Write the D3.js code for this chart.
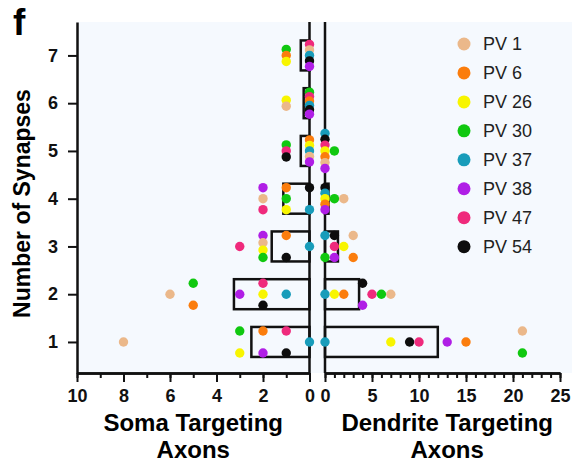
<!DOCTYPE html>
<html>
<head>
<meta charset="utf-8">
<script src="https://cdn.jsdelivr.net/npm/d3@7"></script>
<style>
  body { margin: 0; background: #fff; }
  svg { display: block; font-family: "Liberation Sans", Arial, sans-serif; }
</style>
</head>
<body>
<div id="chart"></div>
<script>
// PV cells and their colours
const pvNames = ["PV 1", "PV 6", "PV 26", "PV 30", "PV 37", "PV 38", "PV 47", "PV 54"];
const pvColors = ["#ebb88a", "#fb7d0d", "#f8f500", "#10c810", "#189cba", "#b01ee6", "#ef2a7c", "#0d0d0d"];

// number of axons per PV at each synapse count (1..7), listed top to bottom as drawn
const soma = [
  [["PV 1", 8], ["PV 30", 3], ["PV 26", 3], ["PV 6", 2], ["PV 38", 2], ["PV 47", 1], ["PV 54", 1], ["PV 37", 0]],
  [["PV 1", 6], ["PV 30", 5], ["PV 6", 5], ["PV 38", 3], ["PV 47", 2], ["PV 26", 2], ["PV 54", 2], ["PV 37", 1]],
  [["PV 47", 3], ["PV 38", 2], ["PV 1", 2], ["PV 26", 2], ["PV 30", 2], ["PV 6", 1], ["PV 54", 1], ["PV 37", 0]],
  [["PV 38", 2], ["PV 1", 2], ["PV 47", 2], ["PV 6", 1], ["PV 30", 1], ["PV 26", 1], ["PV 54", 0], ["PV 37", 0]],
  [["PV 30", 1], ["PV 47", 1], ["PV 54", 1], ["PV 6", 0], ["PV 26", 0], ["PV 37", 0], ["PV 1", 0], ["PV 38", 0]],
  [["PV 26", 1], ["PV 1", 1], ["PV 30", 0], ["PV 47", 0], ["PV 6", 0], ["PV 37", 0], ["PV 54", 0], ["PV 38", 0]],
  [["PV 30", 1], ["PV 6", 1], ["PV 26", 1], ["PV 47", 0], ["PV 1", 0], ["PV 37", 0], ["PV 54", 0], ["PV 38", 0]]
];
const dendrite = [
  [["PV 37", 0], ["PV 26", 7], ["PV 54", 9], ["PV 47", 10], ["PV 38", 13], ["PV 6", 15], ["PV 1", 21], ["PV 30", 21]],
  [["PV 37", 0], ["PV 26", 1], ["PV 6", 2], ["PV 54", 4], ["PV 38", 4], ["PV 47", 5], ["PV 30", 6], ["PV 1", 7]],
  [["PV 37", 0], ["PV 30", 0], ["PV 54", 1], ["PV 47", 1], ["PV 38", 1], ["PV 26", 2], ["PV 1", 3], ["PV 6", 3]],
  [["PV 54", 0], ["PV 37", 0], ["PV 26", 0], ["PV 6", 0], ["PV 38", 0], ["PV 30", 1], ["PV 1", 2]],
  [["PV 37", 0], ["PV 54", 0], ["PV 47", 0], ["PV 26", 0], ["PV 6", 0], ["PV 1", 0], ["PV 38", 0], ["PV 30", 1]],
  [],
  []
];
const synapseTicks = [1, 2, 3, 4, 5, 6, 7];
const somaTicks = [10, 8, 6, 4, 2, 0];
const dendriteTicks = [0, 5, 10, 15, 20, 25];

const width = 575;
const height = 463;
const plotTop = 22;
const plotBottom = 373;

const color = d3.scaleOrdinal(pvNames, pvColors);
const y = d3.scaleLinear([0.35, 7.7], [plotBottom, plotTop]);
const xL = d3.scaleLinear([10, 0], [77, 309.5]);
const xR = d3.scaleLinear([0, 25], [325, 560]);

const svg = d3.create("svg")
  .attr("width", width)
  .attr("height", height)
  .attr("viewBox", [0, 0, width, height]);
d3.select("#chart").append(() => svg.node());

// plot background
svg.append("rect")
  .attr("x", xL(10)).attr("y", plotTop)
  .attr("width", 572 - xL(10)).attr("height", plotBottom - plotTop)
  .attr("fill", "#f5f9fe");

// panel label
svg.append("text")
  .attr("x", 13).attr("y", 35)
  .attr("font-size", 37).attr("font-weight", "bold")
  .text("f");

const barHalf = 15;

function drawPanel(data, x) {
  const g = svg.append("g");
  data.forEach((pts, i) => {
    if (!pts.length) return;
    const level = i + 1;
    const mean = d3.sum(pts, d => d[1]) / pvNames.length;
    const x0 = x(0), x1 = x(mean);
    g.append("rect")
      .attr("x", Math.min(x0, x1)).attr("width", Math.abs(x1 - x0))
      .attr("y", y(level) - barHalf).attr("height", barHalf * 2)
      .attr("fill", "none").attr("stroke", "#111").attr("stroke-width", 2.5);
  });
  // dots, spread vertically when several share a value
  data.forEach((pts, i) => {
    const level = i + 1;
    const groups = d3.group(pts, d => d[1]);
    for (const [v, grp] of groups) {
      const n = grp.length;
      // the upper rows keep non-zero dots packed closer together
      let h = n >= 7 ? 17.5 : 11;
      if (level >= 5 && v > 0) h = 3 * (n - 1);
      grp.forEach((d, j) => {
        const off = n > 1 ? -h + (2 * h * j) / (n - 1) : 0;
        g.append("circle")
          .attr("cx", x(v))
          .attr("cy", y(level) + off)
          .attr("r", 4.7)
          .attr("fill", color(d[0]));
      });
    }
  });
}

// zero lines
svg.append("line")
  .attr("x1", xL(0)).attr("x2", xL(0)).attr("y1", plotTop).attr("y2", plotBottom)
  .attr("stroke", "#111").attr("stroke-width", 2.5);
svg.append("line")
  .attr("x1", xR(0)).attr("x2", xR(0)).attr("y1", plotTop).attr("y2", plotBottom)
  .attr("stroke", "#111").attr("stroke-width", 2.5);

drawPanel(soma, xL);
drawPanel(dendrite, xR);

function styleAxis(g) {
  g.select(".domain").attr("stroke", "#111").attr("stroke-width", 2.5);
  g.selectAll(".tick line").attr("stroke", "#111").attr("stroke-width", 2);
  g.selectAll(".tick text")
    .attr("font-size", 18).attr("font-weight", "bold").attr("fill", "#111")
    .attr("font-family", "'Liberation Sans', Arial, sans-serif");
}

// y axis
svg.append("g")
  .attr("transform", `translate(${xL(10)},0)`)
  .call(d3.axisLeft(y).tickValues(synapseTicks).tickFormat(d3.format("d")).tickSize(9).tickPadding(10).tickSizeOuter(0))
  .call(styleAxis);

// left x axis: minor then major ticks
svg.append("g")
  .attr("transform", `translate(0,${plotBottom})`)
  .call(d3.axisBottom(xL).tickValues(d3.range(0, 11)).tickFormat("").tickSize(5).tickSizeOuter(0))
  .call(styleAxis);
svg.append("g")
  .attr("transform", `translate(0,${plotBottom})`)
  .call(d3.axisBottom(xL).tickValues(somaTicks).tickSize(9).tickPadding(7).tickSizeOuter(0))
  .call(styleAxis);

// right x axis
svg.append("g")
  .attr("transform", `translate(0,${plotBottom})`)
  .call(d3.axisBottom(xR).tickValues(d3.range(0, 26)).tickFormat("").tickSize(5).tickSizeOuter(0))
  .call(styleAxis);
svg.append("g")
  .attr("transform", `translate(0,${plotBottom})`)
  .call(d3.axisBottom(xR).tickValues(dendriteTicks).tickSize(9).tickPadding(7).tickSizeOuter(0))
  .call(styleAxis);

// axis titles
svg.append("text")
  .attr("transform", `translate(30,${(plotTop + plotBottom) / 2 + 6}) rotate(-90)`)
  .attr("text-anchor", "middle")
  .attr("font-size", 23).attr("font-weight", "bold")
  .text("Number of Synapses");

const titleSize = 24;
[[xL, 5, ["Soma Targeting", "Axons"]], [xR, 13, ["Dendrite Targeting", "Axons"]]].forEach(([x, c, lines]) => {
  lines.forEach((t, i) => {
    svg.append("text")
      .attr("x", x(c)).attr("y", 431 + i * 27)
      .attr("text-anchor", "middle")
      .attr("font-size", titleSize).attr("font-weight", "bold")
      .text(t);
  });
});

// legend
const legend = svg.append("g")
  .selectAll("g")
  .data(pvNames)
  .join("g")
  .attr("transform", (d, i) => `translate(464,${44 + i * 28.95})`);
legend.append("circle").attr("r", 6.5).attr("fill", d => color(d));
legend.append("text")
  .attr("x", 19).attr("dy", "0.36em")
  .attr("font-size", 18).attr("fill", "#222")
  .text(d => d);
</script>
</body>
</html>
